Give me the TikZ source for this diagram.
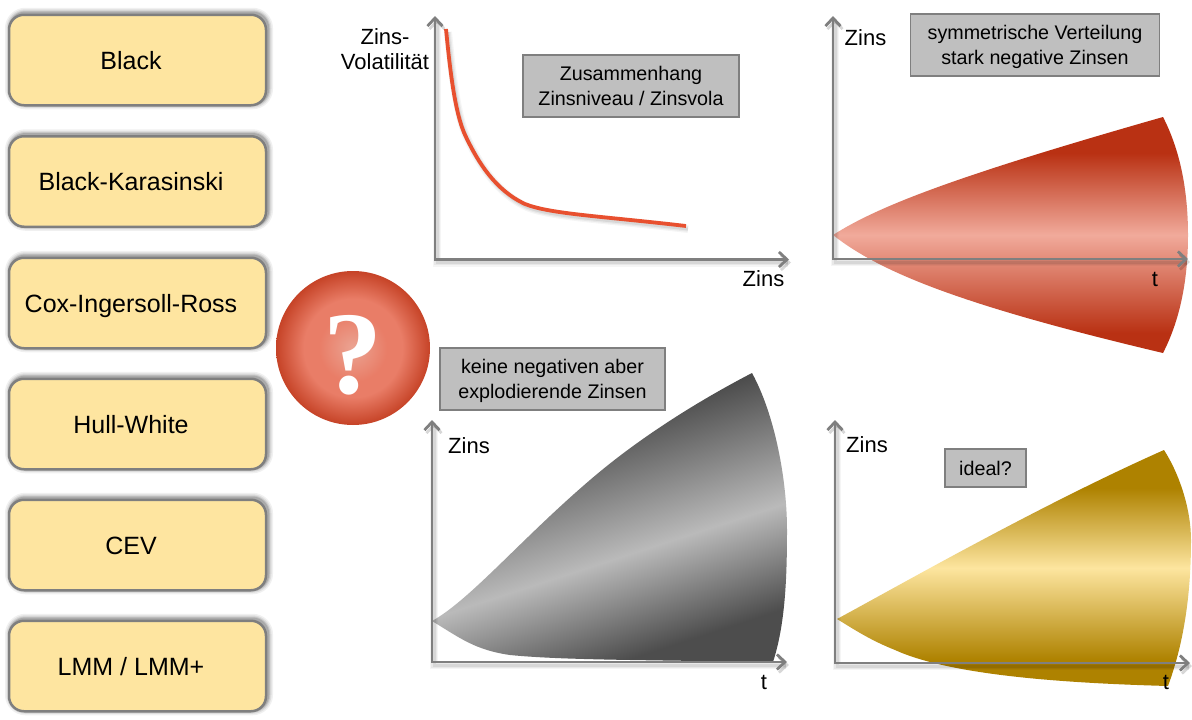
\documentclass[tikz,border=0pt]{standalone}
\usepackage{fontspec}
\setmainfont{Liberation Sans}
\newfontfamily\qfont{Liberation Serif}
\usetikzlibrary{arrows.meta}
\definecolor{boxfill}{HTML}{FEE5A0}
\definecolor{rulegrey}{HTML}{7F7F7F}
\definecolor{notegrey}{HTML}{BFBFBF}
\definecolor{redD}{HTML}{B93113}
\definecolor{redL}{HTML}{F1AA9B}
\definecolor{greyD}{HTML}{4D4D4D}
\definecolor{greyL}{HTML}{BABABA}
\definecolor{goldD}{HTML}{AE8200}
\definecolor{goldL}{HTML}{FDE59F}
\definecolor{curvered}{HTML}{E8502F}
\definecolor{sph0}{HTML}{EBA493}
\definecolor{sph1}{HTML}{E97D67}
\definecolor{sph2}{HTML}{C64327}
\pgfdeclareverticalshading{redfan}{420pt}{color(0pt)=(redD);color(37pt)=(redD);color(135pt)=(redL);color(217pt)=(redD);color(270pt)=(redD)}
\pgfdeclareverticalshading{greyfan}{600pt}{color(0pt)=(greyD);color(100pt)=(greyD);color(200pt)=(greyL);color(331pt)=(greyD);color(400pt)=(greyD)}
\pgfdeclareverticalshading{goldfan}{420pt}{color(0pt)=(goldD);color(40pt)=(goldD);color(132pt)=(goldL);color(212pt)=(goldD);color(260pt)=(goldD)}
\pgfdeclareradialshading{sphereshade}{\pgfpointorigin}{color(0bp)=(sph0);color(11bp)=(sph1);color(16bp)=(sph1);color(25bp)=(sph2);color(50bp)=(sph2)}
\tikzset{
  boxglow/.style={
    preaction={draw=black,draw opacity=.06,line width=11pt,transform canvas={xshift=1.5pt,yshift=1.5pt}},
    preaction={draw=black,draw opacity=.08,line width=8pt,transform canvas={xshift=1.5pt,yshift=1.5pt}},
    preaction={draw=black,draw opacity=.10,line width=5.5pt,transform canvas={xshift=1.5pt,yshift=1.5pt}},
    preaction={draw=black,draw opacity=.14,line width=3.5pt,transform canvas={xshift=1.5pt,yshift=1.5pt}}},
  lineglow/.style={
    preaction={draw=black,draw opacity=.04,line width=8pt,transform canvas={xshift=2pt,yshift=-3pt}},
    preaction={draw=black,draw opacity=.05,line width=5.5pt,transform canvas={xshift=2pt,yshift=-3pt}},
    preaction={draw=black,draw opacity=.07,line width=3pt,transform canvas={xshift=2pt,yshift=-3pt}}},
  modelbox/.style={boxglow,draw=rulegrey,line width=2.5pt,fill=boxfill,rounded corners=15pt,
    minimum width=257pt,minimum height=90.5pt,inner sep=0pt,font=\fontsize{25}{30}\selectfont,
    text height=18pt,text depth=0pt,execute at begin node=\kern-13pt},
  notebox/.style={draw=rulegrey,line width=1.8pt,fill=notegrey,inner sep=0pt,align=center,
    text depth=0pt,font=\fontsize{19.7}{25}\selectfont},
  axislabel/.style={inner sep=0pt,align=center,font=\fontsize{22}{25}\selectfont},
  barbs/.style={{Straight Barb[length=8pt,width=15pt,line width=2.8pt]}-{Straight Barb[length=8pt,width=15pt,line width=2.8pt]}},
  axisline/.style={lineglow,draw=rulegrey,line width=2.8pt,line join=miter,barbs},
}
\begin{document}
\begin{tikzpicture}[x=1pt,y=-1pt]
\path[use as bounding box,fill=white] (0,0) rectangle (1192,720);

% fans
\begin{scope}
\clip (833,235) .. controls (880,205) and (960,175) .. (1163,117)
  .. controls (1180,150) and (1188,190) .. (1188,235)
  .. controls (1188,280) and (1180,320) .. (1163,353)
  .. controls (960,305) and (880,272) .. (833,235) -- cycle;
\pgftext[at={\pgfpointxy{1000}{235}}]{\pgfuseshading{redfan}}
\end{scope}
\begin{scope}
\clip (432,621) .. controls (470,600) and (520,540) .. (590,480)
  .. controls (640,437) and (700,400) .. (752,373)
  .. controls (775,415) and (787,480) .. (787,530)
  .. controls (787,580) and (785,625) .. (773,662)
  .. controls (640,660) and (560,660) .. (510,655)
  .. controls (475,650) and (460,638) .. (432,621) -- cycle;
\pgftext[at={\pgfpointxy{620}{557}},rotate=18]{\pgfuseshading{greyfan}}
\end{scope}
\begin{scope}
\clip (837,619) .. controls (900,585) and (1040,505) .. (1164,450)
  .. controls (1180,475) and (1191,510) .. (1191,540)
  .. controls (1191,590) and (1185,640) .. (1168,686)
  .. controls (1060,683) and (950,675) .. (895,650)
  .. controls (870,640) and (855,630) .. (837,619) -- cycle;
\pgftext[at={\pgfpointxy{1010}{570}}]{\pgfuseshading{goldfan}}
\end{scope}

% axes
\coordinate (aTop) at (435,16); \coordinate (aOrg) at (435,259.5); \coordinate (aEnd) at (789,259.5);
\coordinate (bTop) at (833,16); \coordinate (bOrg) at (833,259); \coordinate (bEnd) at (1188,259);
\coordinate (cTop) at (432,420); \coordinate (cOrg) at (432,662); \coordinate (cEnd) at (787,662);
\coordinate (dTop) at (835,420); \coordinate (dOrg) at (835,663); \coordinate (dEnd) at (1190,663);
\draw[axisline] (aTop) -- (aOrg) -- (aEnd);
\draw[axisline] (bTop) -- (bOrg) -- (bEnd);
\draw[axisline] (cTop) -- (cOrg) -- (cEnd);
\draw[axisline] (dTop) -- (dOrg) -- (dEnd);

% volatility curve
\draw[lineglow,draw=curvered,line width=3.8pt] (446,29) .. controls (450,70) and (455,115) .. (466,137)
  .. controls (478,162) and (495,190) .. (525,204)
  .. controls (550,214) and (600,216) .. (686,226);

% model boxes
\node[modelbox] (black) at (137.5,60) {Black};
\node[modelbox] (karasinski) at (137.5,181.5) {Black-Karasinski};
\node[modelbox] (cir) at (137.5,303) {Cox-Ingersoll-Ross};
\node[modelbox] (hull) at (137.5,424) {Hull-White};
\node[modelbox] (cev) at (137.5,545) {CEV};
\node[modelbox] (lmm) at (137.5,666) {LMM / LMM+};

% sphere
\node[circle,minimum size=154pt,inner sep=0pt,shading=sphereshade,text=white,
  text height=90pt,text depth=0pt,
  font=\qfont\bfseries\fontsize{118}{118}\selectfont] (sphere) at (353,348) {?};

% notes
\node[notebox,minimum width=216pt,minimum height=62pt] (note1) at (631,86) {Zusammenhang\\Zinsniveau / Zinsvola};
\node[notebox,minimum width=249pt,minimum height=62pt] (note2) at (1035,45) {symmetrische Verteilung\\stark negative Zinsen};
\node[notebox,minimum width=225pt,minimum height=62pt] (note3) at (552.5,379) {keine negativen aber\\explodierende Zinsen};
\node[notebox,minimum width=81pt,minimum height=38pt] (note4) at (985.5,468) {ideal?};

% axis labels
\node[axislabel] (ylabA) at (385,49) {Zins-\\Volatilität};
\node[axislabel] (xlabA) at (763.5,279) {Zins};
\node[axislabel] (ylabB) at (865.5,38) {Zins};
\node[axislabel] (xlabB) at (1155,279) {t};
\node[axislabel] (ylabC) at (469,445.5) {Zins};
\node[axislabel] (xlabC) at (764,682) {t};
\node[axislabel] (ylabD) at (867,445) {Zins};
\node[axislabel] (xlabD) at (1166,682) {t};
\end{tikzpicture}
\end{document}
